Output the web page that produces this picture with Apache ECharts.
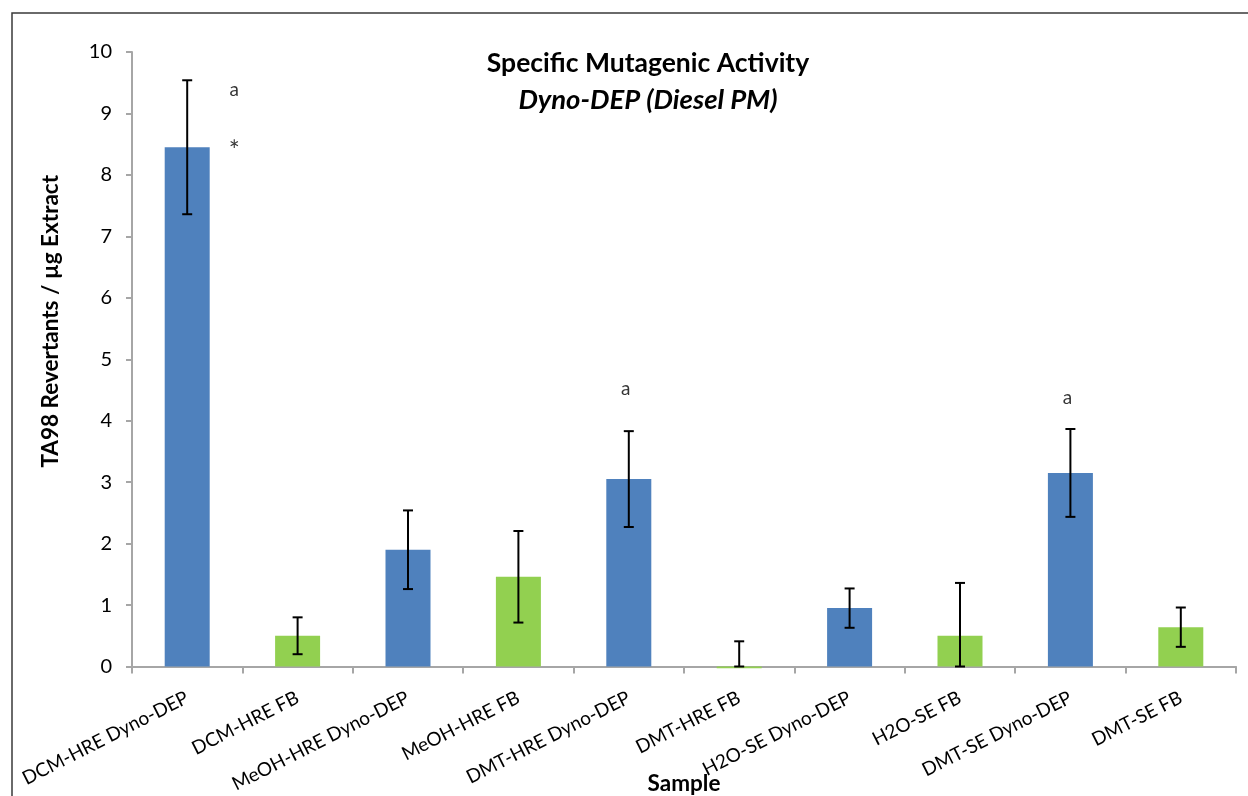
<!DOCTYPE html>
<html>
<head>
<meta charset="utf-8">
<title>Specific Mutagenic Activity</title>
<script src="https://cdn.jsdelivr.net/npm/echarts@6/dist/echarts.min.js"></script>
<style>
  html, body { margin: 0; padding: 0; background: #fff; }
  #chart { width: 1248px; height: 796px; }
</style>
</head>
<body>
<div id="chart"></div>
<script>
// Sample names along the x axis
const categories = [
  'DCM-HRE Dyno-DEP', 'DCM-HRE FB', 'MeOH-HRE Dyno-DEP', 'MeOH-HRE FB',
  'DMT-HRE Dyno-DEP', 'DMT-HRE FB', 'H2O-SE Dyno-DEP', 'H2O-SE FB',
  'DMT-SE Dyno-DEP', 'DMT-SE FB'
];
// Mean TA98 revertants per µg extract
const means = [8.45, 0.50, 1.90, 1.46, 3.05, -0.03, 0.95, 0.50, 3.15, 0.64];
// Error (± half-range of the error bar)
const errors = [1.09, 0.30, 0.64, 0.745, 0.78, 0.44, 0.32, 0.86, 0.715, 0.32];
// Sample type: true = Dyno-DEP extract, false = field blank
const isDyno = [true, false, true, false, true, false, true, false, true, false];
// Significance markers: category, text, y value
const markCats = ['DCM-HRE Dyno-DEP', 'DCM-HRE Dyno-DEP', 'DMT-HRE Dyno-DEP', 'DMT-SE Dyno-DEP'];
const markTexts = ['a', '*', 'a', 'a'];
const markValues = [9.38, 8.45, 4.52, 4.37];
// Y axis ticks
const yMin = 0, yMax = 10, yStep = 1;

const FONT = 'Lato, "Open Sans", sans-serif';
const BLUE = '#4F81BD';
const GREEN = '#92D050';
const AXIS_GREY = '#A6A6A6';

const chart = echarts.init(document.getElementById('chart'), null, { renderer: 'canvas' });

const barData = means.map((v, i) => ({
  value: v,
  itemStyle: { color: isDyno[i] ? BLUE : GREEN }
}));

// Error bar lower end is held at the axis minimum, upper end is mean + error
const errData = means.map((v, i) => [i, Math.max(yMin, v - errors[i]), v + errors[i]]);

const markData = markCats.map((c, i) => ({
  value: [c, markValues[i]],
  label: {
    formatter: markTexts[i],
    fontSize: markTexts[i] === '*' ? 26 : 19,
    // first-bar markers sit off to the right of the bar
    offset: i < 2 ? [47, markTexts[i] === '*' ? 4 : 0] : [-3, 0]
  }
}));

const option = {
  animation: false,
  backgroundColor: '#fff',
  textStyle: { fontFamily: FONT },
  title: {
    text: 'Specific Mutagenic Activity',
    subtext: 'Dyno-DEP (Diesel PM)',
    left: 643,
    top: 45,
    textAlign: 'center',
    itemGap: 10,
    textStyle: { fontFamily: FONT, fontSize: 26.5, fontWeight: 'bold', color: '#000' },
    subtextStyle: { fontFamily: FONT, fontSize: 27.5, fontStyle: 'italic', fontWeight: 'bold', color: '#000' }
  },
  graphic: [{
    type: 'rect',
    shape: { x: 12, y: 13, width: 1260, height: 820 },
    style: { fill: 'none', stroke: '#3a3a3a', lineWidth: 1.5 },
    silent: true,
    z: -10
  }],
  grid: {
    left: 132, right: 12, top: 52, bottom: 129.5,
    containLabel: false,
    outerBoundsMode: 'none'
  },
  xAxis: {
    type: 'category',
    data: categories,
    boundaryGap: true,
    name: 'Sample',
    nameLocation: 'middle',
    nameGap: 106,
    nameMoveOverlap: false,
    nameTextStyle: { fontFamily: FONT, fontSize: 22.5, fontWeight: 'bold', color: '#000' },
    axisLine: { show: true, onZero: false, lineStyle: { color: AXIS_GREY, width: 2 } },
    axisTick: { show: true, length: 7, alignWithLabel: false, lineStyle: { color: AXIS_GREY, width: 2 } },
    axisLabel: {
      rotate: 27,
      interval: 0,
      margin: 30,
      fontFamily: FONT,
      fontSize: 19,
      color: '#000'
    },
    splitLine: { show: false }
  },
  yAxis: {
    type: 'value',
    min: yMin,
    max: yMax,
    interval: yStep,
    name: 'TA98 Revertants / µg Extract',
    nameLocation: 'middle',
    nameGap: 70,
    nameMoveOverlap: false,
    nameTextStyle: {
      fontFamily: FONT, fontSize: 22.5, fontWeight: 'bold', color: '#000',
      // lifts the rotated title above the plot's mid-height
      padding: [0, 0, 0, 76]
    },
    axisLine: { show: true, lineStyle: { color: AXIS_GREY, width: 2 } },
    axisTick: { show: true, length: 6, lineStyle: { color: AXIS_GREY, width: 2 } },
    axisLabel: { margin: 20, fontFamily: FONT, fontSize: 20, color: '#000' },
    splitLine: { show: false }
  },
  series: [
    {
      type: 'bar',
      data: barData,
      barWidth: 45,
      clip: false,
      z: 1
    },
    {
      type: 'custom',
      data: errData,
      z: 5,
      clip: false,
      renderItem: function (params, api) {
        const x = api.value(0);
        const lo = api.coord([x, api.value(1)]);
        const hi = api.coord([x, api.value(2)]);
        const half = 5;
        const style = { stroke: '#000', lineWidth: 2 };
        return {
          type: 'group',
          children: [
            { type: 'line', shape: { x1: hi[0], y1: hi[1], x2: lo[0], y2: lo[1] }, style: style },
            { type: 'line', shape: { x1: hi[0] - half, y1: hi[1], x2: hi[0] + half, y2: hi[1] }, style: style },
            { type: 'line', shape: { x1: lo[0] - half, y1: lo[1], x2: lo[0] + half, y2: lo[1] }, style: style }
          ]
        };
      }
    },
    {
      type: 'scatter',
      data: markData,
      symbolSize: 0,
      z: 6,
      label: {
        show: true,
        position: 'inside',
        fontFamily: FONT,
        fontSize: 19,
        color: '#000'
      }
    }
  ]
};

chart.setOption(option);
</script>
</body>
</html>
